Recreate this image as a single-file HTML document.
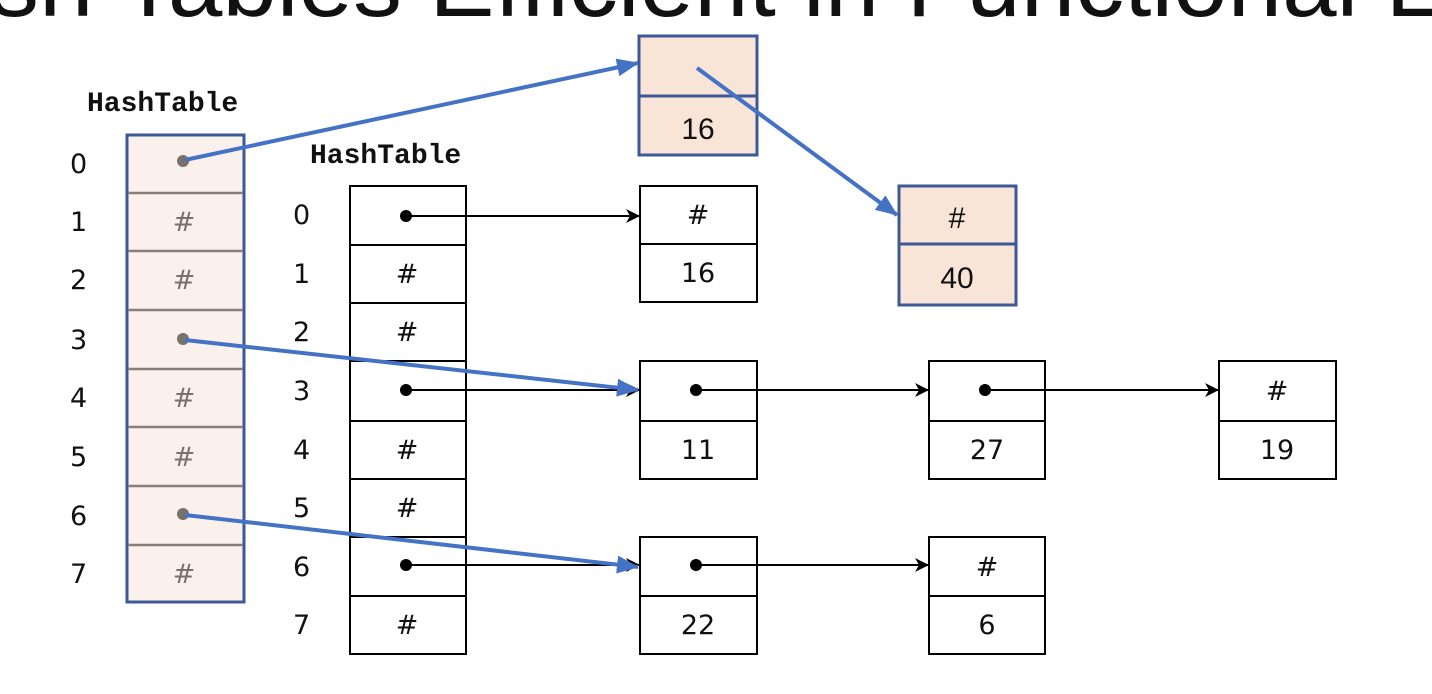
<!DOCTYPE html>
<html><head><meta charset="utf-8"><style>
html,body{margin:0;padding:0;background:#fff;width:1432px;height:694px;overflow:hidden}
svg{display:block}
.idx{font-family:"DejaVu Sans","Liberation Sans",sans-serif;font-size:27px;fill:#111}
.cell{font-family:"DejaVu Sans","Liberation Sans",sans-serif;font-size:27px;fill:#111}
.ttl{font-family:"Liberation Mono",monospace;font-weight:bold;font-size:28px;fill:#111}
.pk{font-family:"Liberation Sans",sans-serif;font-size:30px;fill:#111}
</style></head><body>
<svg width="1432" height="694" viewBox="0 0 1432 694">
<defs>
<marker id="bk" markerWidth="14" markerHeight="14" refX="13" refY="7" orient="auto" markerUnits="userSpaceOnUse"><path d="M0,0 L14,7 L0,14 L4,7 z" fill="#000"/></marker>
<marker id="bl" markerWidth="22" markerHeight="18" refX="21" refY="9" orient="auto" markerUnits="userSpaceOnUse"><path d="M0,0 L22,9 L0,18 z" fill="#4472c4"/></marker>
</defs>
<text x="-10" y="16" font-family="Liberation Sans,sans-serif" font-size="96" fill="#111" textLength="1450" lengthAdjust="spacingAndGlyphs">sh Tables Efficient in Functional L</text>

<g>
<text class="ttl" x="87" y="111">HashTable</text>
<rect x="127" y="135" width="117" height="467" fill="#fbf1ec" stroke="#3c5896" stroke-width="3"/>
<g stroke="#8a7f78" stroke-width="2.5">
<line x1="128" y1="193" x2="243" y2="193"/><line x1="128" y1="251" x2="243" y2="251"/><line x1="128" y1="310" x2="243" y2="310"/><line x1="128" y1="369" x2="243" y2="369"/><line x1="128" y1="427" x2="243" y2="427"/><line x1="128" y1="486" x2="243" y2="486"/><line x1="128" y1="545" x2="243" y2="545"/>
</g>
<g class="idx"><text x="70" y="173">0</text><text x="70" y="231">1</text><text x="70" y="289">2</text><text x="70" y="349">3</text><text x="70" y="407">4</text><text x="70" y="466">5</text><text x="70" y="525">6</text><text x="70" y="583">7</text></g>
<g class="cell" style="fill:#7a716c" text-anchor="middle"><text x="184" y="231">#</text><text x="184" y="289">#</text><text x="184" y="407">#</text><text x="184" y="466">#</text><text x="184" y="583">#</text></g>
<circle cx="183" cy="161" r="6" fill="#7a716c"/><circle cx="183" cy="339" r="6" fill="#7a716c"/><circle cx="183" cy="514" r="6" fill="#7a716c"/>
</g>

<g>
<text class="ttl" x="310" y="163">HashTable</text>
<rect x="350" y="186" width="116" height="468" fill="#fff" stroke="#000" stroke-width="2"/>
<g stroke="#000" stroke-width="2">
<line x1="350" y1="245" x2="466" y2="245"/><line x1="350" y1="303" x2="466" y2="303"/><line x1="350" y1="361" x2="466" y2="361"/><line x1="350" y1="421" x2="466" y2="421"/><line x1="350" y1="479" x2="466" y2="479"/><line x1="350" y1="537" x2="466" y2="537"/><line x1="350" y1="596" x2="466" y2="596"/>
</g>
<g class="idx"><text x="293" y="224">0</text><text x="293" y="283">1</text><text x="293" y="341">2</text><text x="293" y="400">3</text><text x="293" y="459">4</text><text x="293" y="517">5</text><text x="293" y="576">6</text><text x="293" y="634">7</text></g>
<g class="cell" text-anchor="middle"><text x="407" y="283">#</text><text x="407" y="341">#</text><text x="407" y="459">#</text><text x="407" y="517">#</text><text x="407" y="634">#</text></g>
</g>

<g stroke="#000" stroke-width="2" fill="#fff">
<rect x="640" y="186" width="117" height="116"/><line x1="640" y1="244" x2="757" y2="244"/>
<rect x="640" y="361" width="117" height="118"/><line x1="640" y1="421" x2="757" y2="421"/>
<rect x="929" y="361" width="116" height="118"/><line x1="929" y1="421" x2="1045" y2="421"/>
<rect x="1219" y="361" width="117" height="118"/><line x1="1219" y1="421" x2="1336" y2="421"/>
<rect x="640" y="537" width="117" height="117"/><line x1="640" y1="596" x2="757" y2="596"/>
<rect x="929" y="537" width="116" height="117"/><line x1="929" y1="596" x2="1045" y2="596"/>
</g>
<g class="cell" text-anchor="middle">
<text x="698" y="224">#</text><text x="698" y="282">16</text>
<text x="698" y="459">11</text><text x="987" y="459">27</text>
<text x="1277" y="400">#</text><text x="1277" y="459">19</text>
<text x="698" y="634">22</text><text x="987" y="576">#</text><text x="987" y="634">6</text>
</g>
<g fill="#000">
<circle cx="406" cy="216" r="6"/><circle cx="406" cy="390" r="6"/><circle cx="406" cy="565" r="6"/>
<circle cx="696" cy="390" r="6"/><circle cx="985" cy="390" r="6"/><circle cx="696" cy="565" r="6"/>
</g>
<g stroke="#000" stroke-width="2" fill="none" marker-end="url(#bk)">
<line x1="406" y1="216" x2="639" y2="216"/>
<line x1="406" y1="390" x2="639" y2="390"/>
<line x1="406" y1="565" x2="639" y2="565"/>
<line x1="696" y1="390" x2="928" y2="390"/>
<line x1="985" y1="390" x2="1218" y2="390"/>
<line x1="696" y1="565" x2="928" y2="565"/>
</g>

<g fill="#f8e5d8" stroke="#3c5896" stroke-width="3">
<rect x="639" y="36" width="118" height="119"/><line x1="639" y1="96" x2="757" y2="96"/>
<rect x="899" y="186" width="117" height="119"/><line x1="899" y1="244" x2="1016" y2="244"/>
</g>
<g class="pk" text-anchor="middle"><text x="698" y="139">16</text><text x="957" y="228">#</text><text x="957" y="288">40</text></g>

<g stroke="#4472c4" stroke-width="4" fill="none" marker-end="url(#bl)">
<line x1="185" y1="160" x2="638" y2="63"/>
<line x1="697" y1="68" x2="897" y2="215"/>
<line x1="185" y1="340" x2="638" y2="390"/>
<line x1="185" y1="515" x2="638" y2="567"/>
</g>
</svg>
</body></html>
